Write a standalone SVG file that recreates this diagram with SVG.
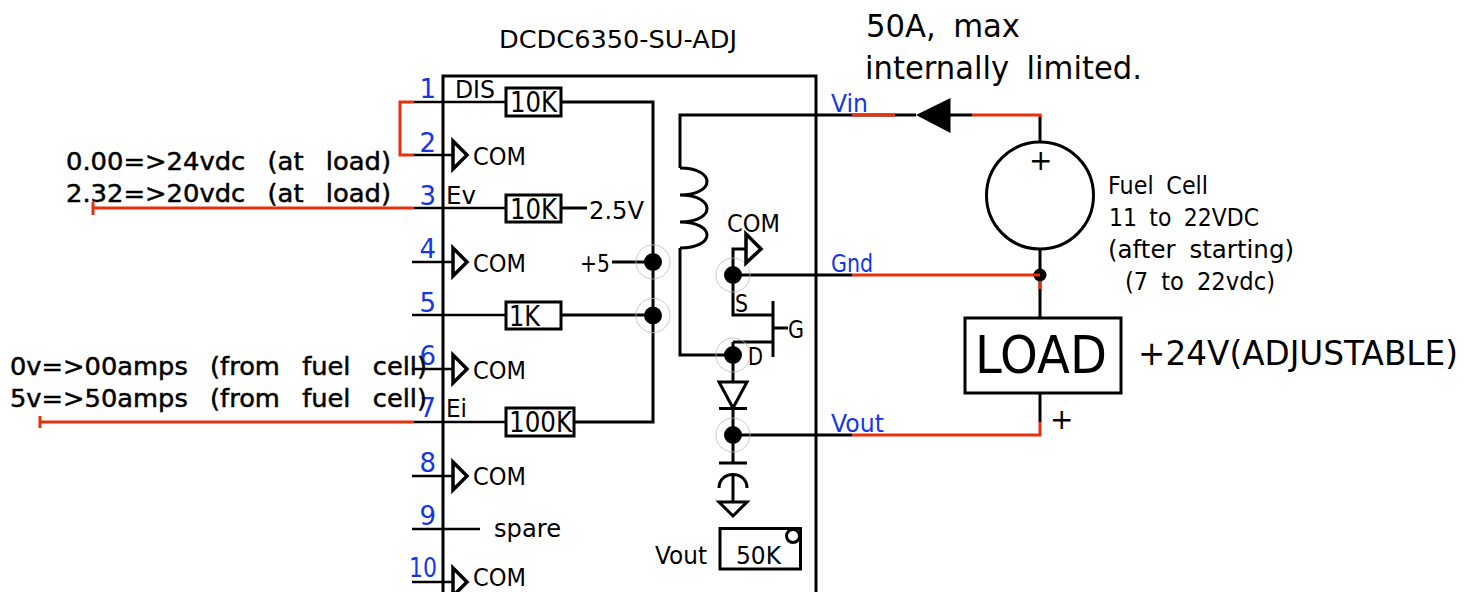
<svg xmlns="http://www.w3.org/2000/svg" width="1473" height="592" viewBox="0 0 1473 592">
<style>
text{font-family:"DejaVu Sans","Liberation Sans",sans-serif;fill:#000;font-size:25px;word-spacing:.25em}
.b{fill:#1436e6;font-size:25px}
.n{fill:#1436e6;font-size:26px;text-anchor:end}
.h{stroke:#000;stroke-width:.5px;font-size:25px;word-spacing:.55em}
.k{font-size:29px}
.w{fill:none;stroke:#000;stroke-width:3}
.t{fill:none;stroke:#000;stroke-width:2.5}
.r{fill:none;stroke:#e8300f;stroke-width:3}
.box{fill:#fff;stroke:#000;stroke-width:3}
.ring{fill:none;stroke:#bbb;stroke-width:.8}
.com{fill:#fff;stroke:#000;stroke-width:3.500}
</style>
<defs>
<g id="comsym"><path class="com" d="M453-14L467 0L453 14Z"/></g>
<g id="dot"><circle class="ring" r="17"/><circle r="9"/></g>
</defs>
<rect width="1473" height="592" fill="#fff"/>
<g id="connectors">
<path class="t" d="M412 262H453M412 315H506M412 369H453M412 476H453M412 529H480M412 582H453M414 102H506M414 155H453M414 208H506M414 422H506"/>
<path class="w" d="M561 102H653V422H574M561 208H587M612 262H653M561 315H653"/>
<path class="w" d="M816 115H680V168M680 248V355H733M733 275V315H773M773 301V357M773 328H788M733 342H773M733 342V382M733 408V463M733 435H852M733 275H852M816 115H895M733 275V249H746"/>
<path class="w" d="M895 115H916M950 115H972M1040 115V142M1040 249V317M1040 393V422"/>
<path class="r" d="M414 102H400V155H414M93 202V215M93 208H414M40 416V428M40 422H414M852 115H895M972 115H1040V117M852 275H1034M1040 275V289M852 435H1040V422"/>
</g>
<g id="chip">
<path class="w" d="M443 592V76H816V592"/>
<text x="499" y="48" textLength="238" lengthAdjust="spacingAndGlyphs">DCDC6350-SU-ADJ</text>
</g>
<g id="pin1"><text class="n" x="436" y="98">1</text><text x="455" y="98" textLength="40" lengthAdjust="spacingAndGlyphs">DIS</text><rect class="box" x="506" y="88" width="55" height="28"/><text class="k" x="510" y="112" textLength="47" lengthAdjust="spacingAndGlyphs">10K</text></g>
<g id="pin2"><text class="n" x="436" y="152">2</text><use href="#comsym" y="155"/><text x="473" y="165" textLength="53" lengthAdjust="spacingAndGlyphs">COM</text></g>
<g id="pin3"><text class="n" x="436" y="205">3</text><text x="446" y="204" textLength="30" lengthAdjust="spacingAndGlyphs">Ev</text><rect class="box" x="506" y="195" width="55" height="27"/><text class="k" x="510" y="219" textLength="47" lengthAdjust="spacingAndGlyphs">10K</text><text x="589" y="219" textLength="55" lengthAdjust="spacingAndGlyphs">2.5V</text></g>
<g id="pin4"><text class="n" x="436" y="258">4</text><use href="#comsym" y="262"/><text x="473" y="272" textLength="53" lengthAdjust="spacingAndGlyphs">COM</text><text x="580" y="272" textLength="30" lengthAdjust="spacingAndGlyphs">+5</text></g>
<g id="pin5"><text class="n" x="436" y="312">5</text><rect class="box" x="506" y="302" width="55" height="27"/><text class="k" x="509" y="326" textLength="31" lengthAdjust="spacingAndGlyphs">1K</text></g>
<g id="pin6"><text class="n" x="436" y="365">6</text><use href="#comsym" y="369"/><text x="473" y="379" textLength="53" lengthAdjust="spacingAndGlyphs">COM</text></g>
<g id="pin7"><text class="n" x="436" y="417">7</text><text x="446" y="417" textLength="21" lengthAdjust="spacingAndGlyphs">Ei</text><rect class="box" x="506" y="408" width="68" height="28"/><text class="k" x="509" y="432" textLength="63" lengthAdjust="spacingAndGlyphs">100K</text></g>
<g id="pin8"><text class="n" x="436" y="472">8</text><use href="#comsym" y="476"/><text x="473" y="485" textLength="53" lengthAdjust="spacingAndGlyphs">COM</text></g>
<g id="pin9"><text class="n" x="436" y="525">9</text><text x="494" y="537" textLength="67" lengthAdjust="spacingAndGlyphs">spare</text></g>
<g id="pin10"><text class="n" x="437" y="577" textLength="28" lengthAdjust="spacingAndGlyphs">10</text><use href="#comsym" y="582"/><text x="473" y="586" style="font-size:24px" textLength="53" lengthAdjust="spacingAndGlyphs">COM</text></g>
<g id="inputNotes">
<text class="h" x="66" y="170" textLength="325" lengthAdjust="spacingAndGlyphs">0.00=&gt;24vdc (at load)</text>
<text class="h" x="66" y="202" textLength="325" lengthAdjust="spacingAndGlyphs">2.32=&gt;20vdc (at load)</text>
<text class="h" x="10" y="375" textLength="417" lengthAdjust="spacingAndGlyphs">0v=&gt;00amps (from fuel cell)</text>
<text class="h" x="10" y="407" textLength="417" lengthAdjust="spacingAndGlyphs">5v=&gt;50amps (from fuel cell)</text>
</g>
<g id="junctions">
<use href="#dot" x="653" y="262"/><use href="#dot" x="653" y="315.5"/><use href="#dot" x="733" y="275"/><use href="#dot" x="733" y="355"/><use href="#dot" x="733" y="435"/>
</g>
<g id="inductor"><path class="w" d="M680 168C716 168 716 195 680 195C716 195 716 222 680 222C716 222 716 248 680 248"/></g>
<g id="mosfet">
<path class="com" d="M746 234L761 249L746 263Z"/>
<text x="727" y="232" textLength="53" lengthAdjust="spacingAndGlyphs">COM</text>
<text x="735" y="312" textLength="13" lengthAdjust="spacingAndGlyphs">S</text>
<text x="788" y="338" textLength="16" lengthAdjust="spacingAndGlyphs">G</text>
<text x="748" y="365" textLength="15" lengthAdjust="spacingAndGlyphs">D</text>
</g>
<g id="diode"><path class="w" d="M719 382H747L733 408ZM719 408.500H747"/></g>
<g id="capacitor"><path class="w" d="M719 463H747M719 488C719 470 747 470 747 488M733 475V502M719 502H747L733 516Z"/></g>
<g id="pot"><rect class="box" x="720" y="528.500" width="80.500" height="40.500"/><circle class="box" cx="793" cy="536" r="6.500"/><text x="655" y="564" textLength="52" lengthAdjust="spacingAndGlyphs">Vout</text><text x="736" y="564" textLength="45" lengthAdjust="spacingAndGlyphs">50K</text></g>
<g id="terminals">
<text class="b" x="831" y="112" textLength="37" lengthAdjust="spacingAndGlyphs">Vin</text>
<text class="b" x="831" y="272" textLength="42" lengthAdjust="spacingAndGlyphs">Gnd</text>
<text class="b" x="831" y="432" textLength="53" lengthAdjust="spacingAndGlyphs">Vout</text>
</g>
<g id="seriesDiode">
<path d="M916 115L950.500 98V133Z"/>
<text x="866" y="37" style="font-size:32px" textLength="154" lengthAdjust="spacingAndGlyphs">50A, max</text>
<text x="865" y="79" style="font-size:32px" textLength="277" lengthAdjust="spacingAndGlyphs">internally limited.</text>
</g>
<g id="fuelCell">
<circle class="box" cx="1040" cy="195.500" r="53.500"/>
<text x="1029" y="170" style="font-size:28px">+</text>
<circle cx="1040" cy="275" r="6.500"/>
<path d="M1034 275H1040" stroke="#e8300f" stroke-width="3"/>
<text x="1108" y="194" textLength="100" lengthAdjust="spacingAndGlyphs">Fuel Cell</text>
<text x="1109" y="226" textLength="150" lengthAdjust="spacingAndGlyphs">11 to 22VDC</text>
<text x="1108" y="258" textLength="186" lengthAdjust="spacingAndGlyphs">(after starting)</text>
<text x="1125" y="290" textLength="150" lengthAdjust="spacingAndGlyphs">(7 to 22vdc)</text>
</g>
<g id="load">
<rect class="box" x="965" y="318" width="156" height="75"/>
<text x="975" y="373" style="font-size:51px" textLength="132" lengthAdjust="spacingAndGlyphs">LOAD</text>
<text x="1138" y="365" style="font-size:33px" textLength="320" lengthAdjust="spacingAndGlyphs">+24V(ADJUSTABLE)</text>
<text x="1050" y="429" style="font-size:28px">+</text>
</g>
</svg>
